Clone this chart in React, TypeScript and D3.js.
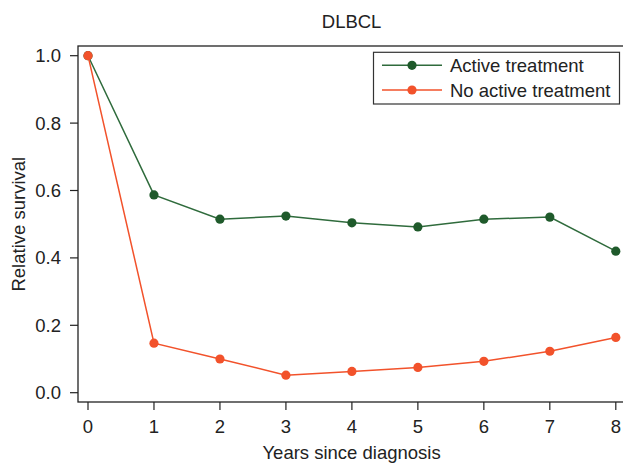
import * as d3 from "d3";

const years = [0, 1, 2, 3, 4, 5, 6, 7, 8];
const activeTreatment = [1.0, 0.587, 0.515, 0.524, 0.504, 0.492, 0.515, 0.521, 0.42];
const noActiveTreatment = [1.0, 0.147, 0.1, 0.052, 0.063, 0.075, 0.093, 0.123, 0.164];
const yTicks = [0, 0.2, 0.4, 0.6, 0.8, 1.0];
const seriesNames = ["Active treatment", "No active treatment"];

const W = 623;
const H = 464;
const box = { left: 78, top: 46, right: 628, bottom: 402 };
const green = "#2f6b3c";
const greenDot = "#1f5a2b";
const orange = "#f2522b";
const ink = "#222";
const font = "'Liberation Sans', Arial, Helvetica, sans-serif";
const fs = 18.5;

const App = () => {
  const x = d3.scaleLinear().domain([0, 8]).range([88, 615.8]);
  const y = d3.scaleLinear().domain([0, 1]).range([392.7, 55.7]);

  const line = d3
    .line<number>()
    .x((_, i) => x(years[i]))
    .y((d) => y(d));

  const series = [
    { name: seriesNames[0], values: activeTreatment, stroke: green, dot: greenDot },
    { name: seriesNames[1], values: noActiveTreatment, stroke: orange, dot: orange },
  ];

  return (
    <svg
      width={W}
      height={H}
      style={{ position: "absolute", left: 0, top: 0, background: "#fff" }}
      fontFamily={font}
    >
      <text x={351.6} y={28} textAnchor="middle" fontSize={fs} fill={ink}>
        DLBCL
      </text>

      {/* data */}
      {series.map((s) => (
        <g key={s.name}>
          <path d={line(s.values) || ""} fill="none" stroke={s.stroke} strokeWidth={1.5} />
          {s.values.map((v, i) => (
            <circle key={i} cx={x(years[i])} cy={y(v)} r={4.6} fill={s.dot} />
          ))}
        </g>
      ))}

      {/* plot box */}
      <rect
        x={box.left}
        y={box.top}
        width={box.right - box.left}
        height={box.bottom - box.top}
        fill="none"
        stroke={ink}
        strokeWidth={1.3}
      />

      {/* y axis */}
      {yTicks.map((t) => (
        <g key={t}>
          <line x1={70} x2={box.left} y1={y(t)} y2={y(t)} stroke={ink} strokeWidth={1.2} />
          <text x={61} y={y(t) + 6.5} textAnchor="end" fontSize={fs} fill={ink}>
            {t.toFixed(1)}
          </text>
        </g>
      ))}
      <text
        transform={`translate(25,${(55.7 + 392.7) / 2}) rotate(-90)`}
        textAnchor="middle"
        fontSize={fs}
        fill={ink}
      >
        Relative survival
      </text>

      {/* x axis */}
      {years.map((t) => (
        <g key={t}>
          <line x1={x(t)} x2={x(t)} y1={box.bottom} y2={410} stroke={ink} strokeWidth={1.2} />
          <text x={x(t)} y={433} textAnchor="middle" fontSize={fs} fill={ink}>
            {t}
          </text>
        </g>
      ))}
      <text x={351.6} y={459} textAnchor="middle" fontSize={fs} fill={ink}>
        Years since diagnosis
      </text>

      {/* legend */}
      <rect x={373.5} y={52.3} width={246} height={51.7} fill="#fff" stroke="#333" strokeWidth={1.2} />
      {series.map((s, i) => {
        const ly = 65.3 + i * 24.7;
        return (
          <g key={s.name}>
            <line x1={382} x2={442} y1={ly} y2={ly} stroke={s.stroke} strokeWidth={1.5} />
            <circle cx={412} cy={ly} r={4.6} fill={s.dot} />
            <text x={450} y={ly + 6.5} fontSize={fs} fill={ink}>
              {s.name}
            </text>
          </g>
        );
      })}
    </svg>
  );
};

export default App;
